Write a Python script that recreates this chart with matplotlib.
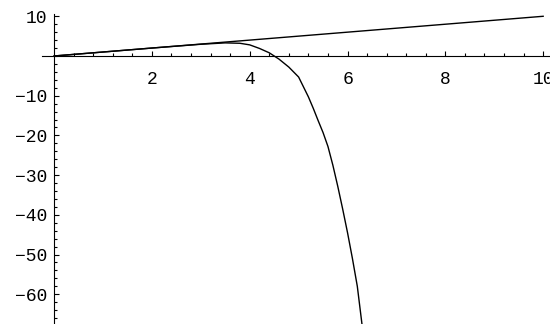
import matplotlib.pyplot as plt
from matplotlib.ticker import FixedLocator

# straight line y = x
line_x = [0, 10]
line_y = [0, 10]

# curve that follows the line and then falls away
curve_x = [0, 1, 2, 3, 3.5, 3.8, 4.0, 4.2, 4.4, 4.6, 4.8, 5.0, 5.1, 5.2,
           5.3, 5.4, 5.5, 5.6, 5.7, 5.8, 5.9, 6.0, 6.1, 6.2, 6.3]
curve_y = [0, 1, 2, 2.95, 3.3, 3.2, 2.8, 1.9, 0.8, -0.8, -2.8, -5.3, -7.8,
           -10.3, -13.2, -16.3, -19.3, -22.8, -27.5, -32.8, -38.5, -44.5,
           -51, -58, -68]

x_major = [2, 4, 6, 8, 10]
y_major = [-60, -50, -40, -30, -20, -10, 10]
x_minor = [i * 0.4 for i in range(1, 26)]
y_minor = list(range(-66, 11, 2))

plt.rcParams['font.family'] = ['Liberation Mono', 'DejaVu Sans Mono']

fig = plt.figure(figsize=(5.5, 3.24), dpi=100)
ax = fig.add_axes([0, 0, 1, 1])

ax.plot(line_x, line_y, color='black', lw=1.0)
ax.plot(curve_x, curve_y, color='black', lw=1.0)

ax.set_xlim(-1.106, 10.14)
ax.set_ylim(-67.5, 14.1)

for s in ['top', 'right']:
    ax.spines[s].set_visible(False)
ax.spines['left'].set_position(('data', 0))
ax.spines['bottom'].set_position(('data', 0))
ax.spines['left'].set_bounds(-67.5, 10.6)
ax.spines['bottom'].set_bounds(-0.25, 10.14)
ax.spines['left'].set_linewidth(0.8)
ax.spines['bottom'].set_linewidth(0.8)

ax.xaxis.set_major_locator(FixedLocator(x_major))
ax.xaxis.set_minor_locator(FixedLocator(x_minor))
ax.yaxis.set_major_locator(FixedLocator(y_major))
ax.yaxis.set_minor_locator(FixedLocator(y_minor))

ax.tick_params(which='both', direction='in', color='black', width=0.8)
ax.tick_params(which='major', length=3.8)
ax.tick_params(which='minor', length=2)
ax.tick_params(axis='x', which='major', pad=11, labelsize=13)
ax.tick_params(axis='y', which='major', pad=5, labelsize=13)
ax.set_facecolor('white')

fig.savefig('out.png', dpi=100)
